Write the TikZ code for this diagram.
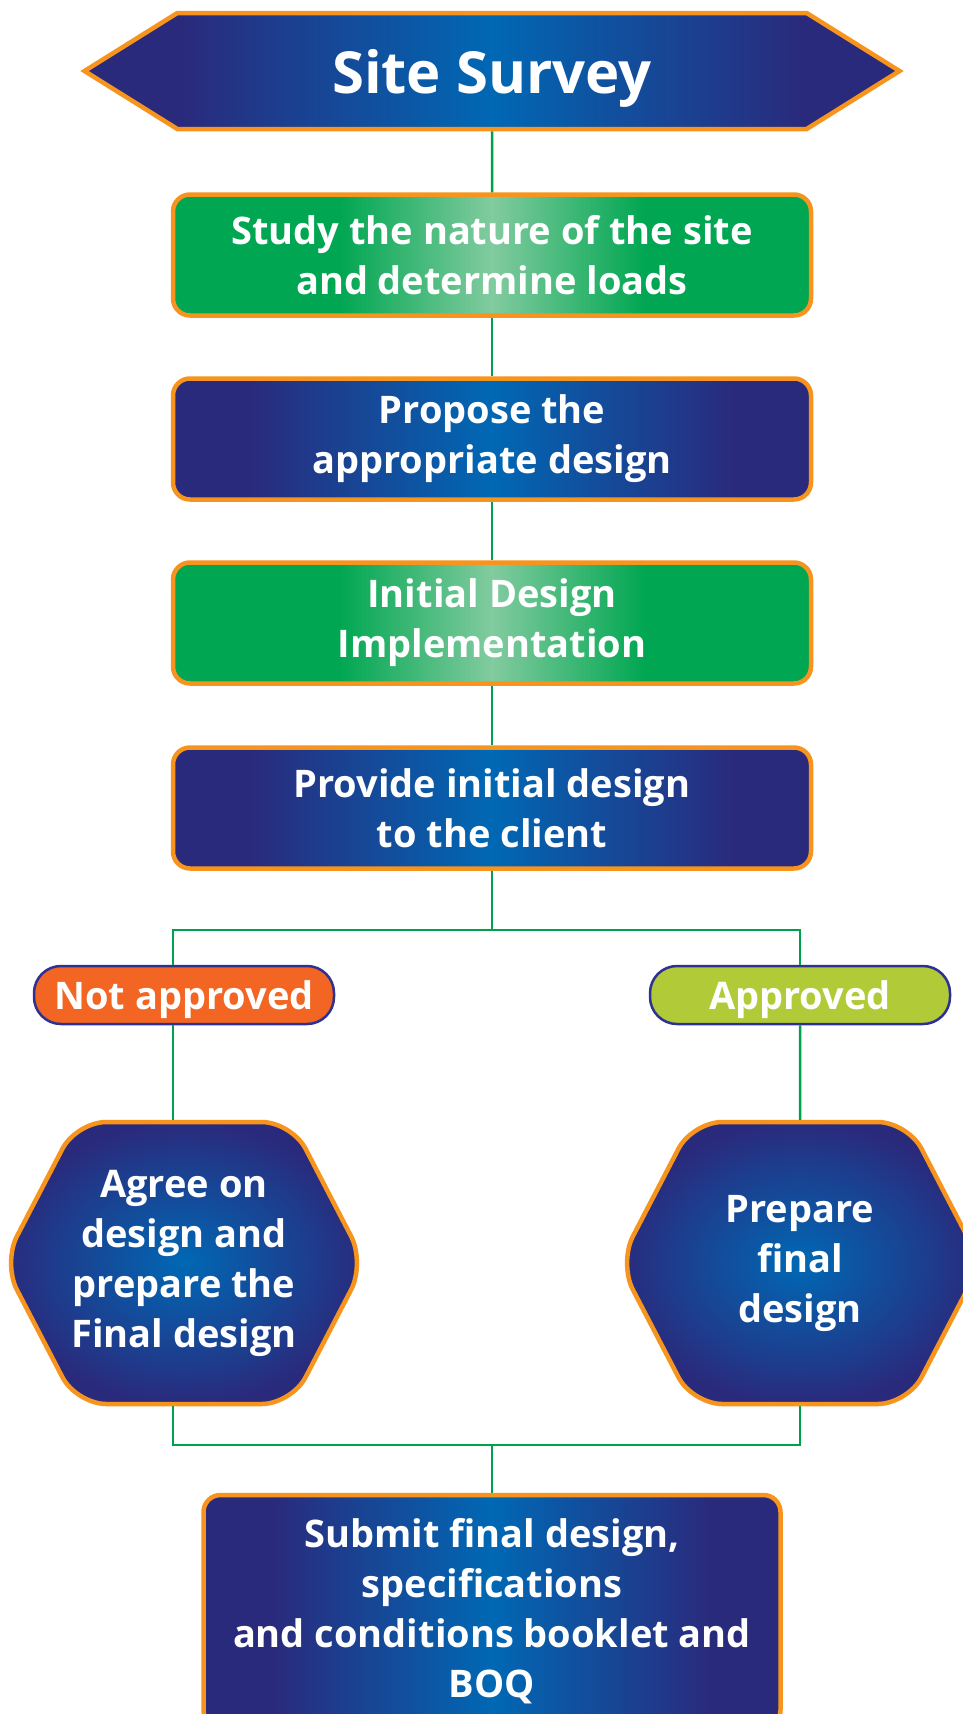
\documentclass[tikz,border=0pt]{standalone}
\usepackage{fontspec}
\setmainfont{Open Sans}
\usetikzlibrary{shapes.symbols}

\definecolor{navy}{HTML}{2A2A7C}
\definecolor{midblue}{HTML}{0068B4}
\definecolor{grn}{HTML}{00A651}
\definecolor{grnlight}{HTML}{82CB9F}
\definecolor{rimorange}{HTML}{F7941D}
\definecolor{pillnot}{HTML}{F26522}
\definecolor{pillok}{HTML}{B1CB38}
\definecolor{rimnavy}{HTML}{2E3192}
\definecolor{linkc}{HTML}{00A14B}

\pgfdeclarehorizontalshading{bluebar}{100bp}{color(0bp)=(navy); color(25bp)=(navy); color(31bp)=(navy); color(50bp)=(midblue); color(69bp)=(navy); color(75bp)=(navy); color(100bp)=(navy)}
\pgfdeclarehorizontalshading{greenbar}{100bp}{color(0bp)=(grn); color(25bp)=(grn); color(38bp)=(grn); color(50bp)=(grnlight); color(62bp)=(grn); color(75bp)=(grn); color(100bp)=(grn)}

\begin{document}
\begin{tikzpicture}[x=1pt,y=-1pt,
    txt/.style={text=white, align=center, inner sep=0pt, font=\fontsize{38}{50}\selectfont\bfseries},
    box/.style={txt, draw=rimorange, line width=4.5pt, rounded corners=17pt, minimum width=638pt, minimum height=121pt},
    bluebox/.style={box, shading=bluebar},
    greenbox/.style={box, shading=greenbar},
    title/.style={txt, signal, signal to=west and east, signal pointer angle=64, draw=rimorange, line width=4.5pt, shading=bluebar, minimum width=815pt, minimum height=116pt, text depth=0pt, font=\fontsize{58}{64}\selectfont\bfseries},
    hexa/.style={txt, signal, signal to=west and east, signal pointer angle=125, draw=rimorange, line width=4.5pt, rounded corners=30pt, inner color=midblue, outer color=navy, inner xsep=-50pt, minimum width=362pt, minimum height=282pt},
    pill/.style={txt, draw=rimnavy, line width=2.5pt, rounded corners=27pt, minimum width=300pt, minimum height=58pt, text depth=0pt, font=\fontsize{38}{44}\selectfont\bfseries},
    link/.style={draw=linkc, line width=2.5pt}]
    \useasboundingbox (0,0) rectangle (963,1714);
    \clip (0,0) rectangle (963,1714);
    \fill[white] (0,0) rectangle (963,1714);

    \node[title] (Survey) at (492,71) {Site Survey};
    \node[greenbox] (Study) at (492,255) {Study the nature of the site\\and determine loads};
    \node[bluebox] (Propose) at (492,439) {Propose the\\appropriate design};
    \node[greenbox] (Initial) at (492,623) {Initial Design\\Implementation};
    \node[bluebox] (Provide) at (492,808) {Provide initial design\\to the client};
    \node[pill, fill=pillnot] (NotOK) at (184,995) {Not approved};
    \node[pill, fill=pillok] (OK) at (800,995) {Approved};
    \node[hexa] (Agree) at (184,1263) {Agree on\\design and\\prepare the\\Final design};
    \node[hexa] (Prepare) at (800,1263) {Prepare\\final\\design};
    \node[bluebox, minimum width=577pt, minimum height=232pt] (Submit) at (492,1611) {Submit final design,\\specifications\\and conditions booklet and\\BOQ};

    \coordinate (Split) at (492,930);
    \coordinate (Join) at (492,1445);

    \path [link] (Survey) edge (Study);
    \path [link] (Study) edge (Propose);
    \path [link] (Propose) edge (Initial);
    \path [link] (Initial) edge (Provide);
    \draw [link] (Provide.south) -- (Split);
    \draw [link] ([xshift=-11pt]NotOK.north) |- (Split) -| (OK.north);
    \path [link] ([xshift=-11pt]NotOK.south) edge ([xshift=-11pt]Agree.north);
    \path [link] (OK) edge (Prepare);
    \draw [link] ([xshift=-11pt]Agree.south) |- (Join) -| (Prepare.south);
    \draw [link] (Join) -- (Submit.north);
\end{tikzpicture}
\end{document}
